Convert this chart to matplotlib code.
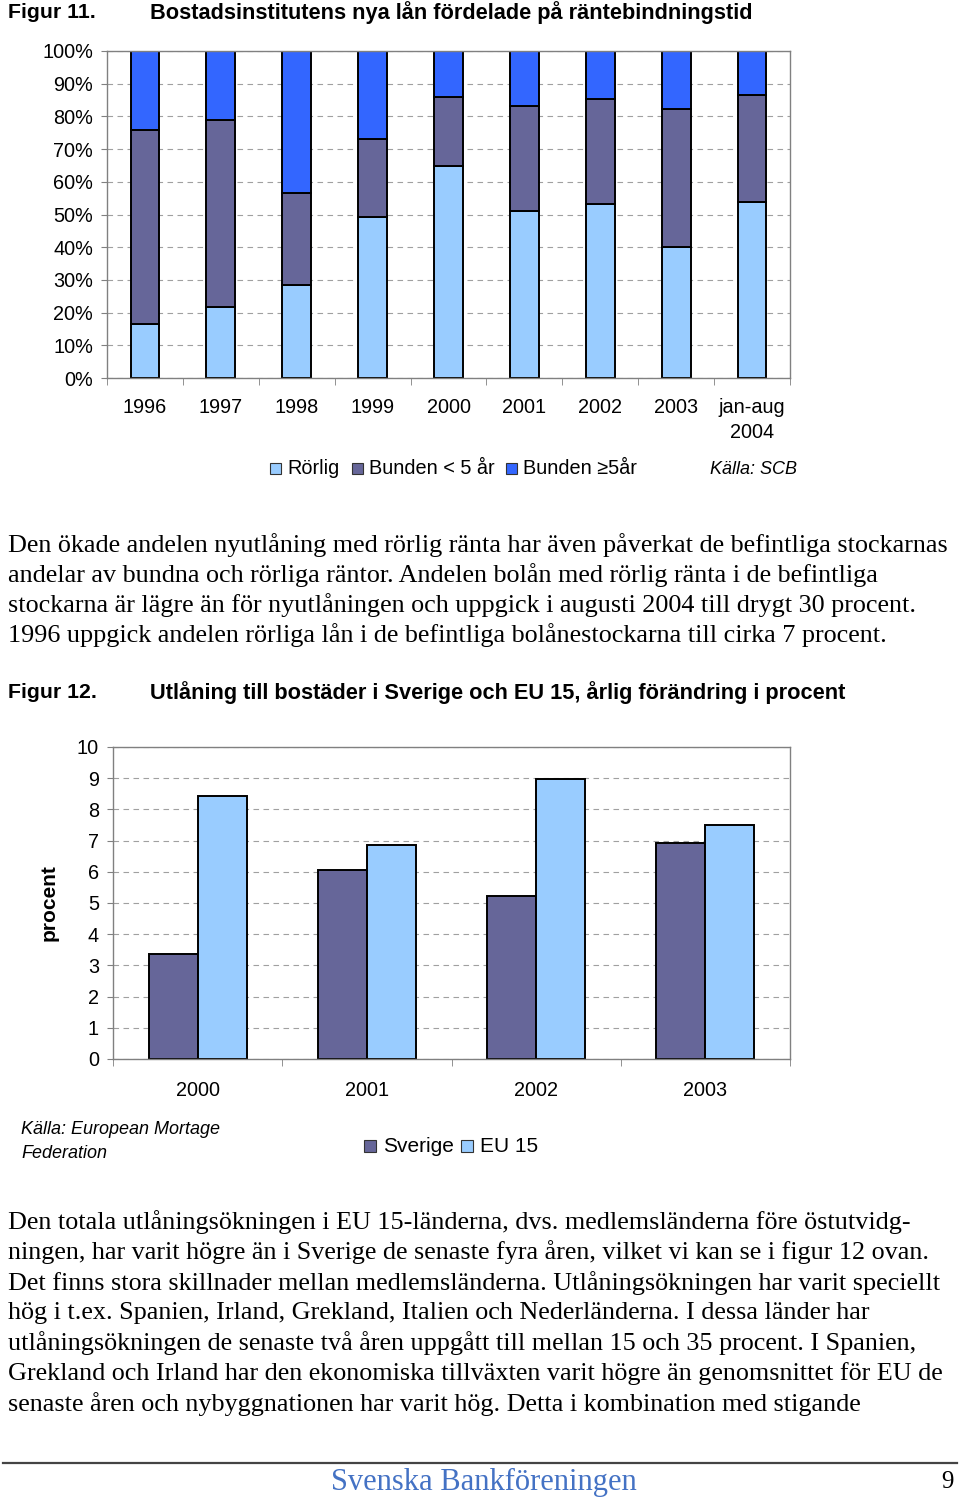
import matplotlib
matplotlib.use("Agg")
import matplotlib.pyplot as plt
import numpy as np
from matplotlib.patches import Rectangle

# ── Data ─────────────────────────────────────────────────────────────────────
years_11 = ["1996", "1997", "1998", "1999", "2000", "2001", "2002", "2003", "jan-aug\n2004"]
rorlig = [16.6, 21.6, 28.5, 49.2, 64.7, 51.2, 53.3, 40.2, 53.8]
bunden_lt5 = [59.3, 57.2, 28.2, 24.0, 21.1, 32.1, 32.0, 42.1, 32.7]
bunden_ge5 = [24.1, 21.2, 43.3, 26.8, 14.2, 16.7, 14.7, 17.7, 13.5]
series_11 = ["Rörlig", "Bunden < 5 år", "Bunden \u22655år"]

years_12 = ["2000", "2001", "2002", "2003"]
sverige = [3.37, 6.05, 5.21, 6.93]
eu15 = [8.42, 6.85, 8.98, 7.51]
series_12 = ["Sverige", "EU 15"]

para1 = [
    "Den ökade andelen nyutlåning med rörlig ränta har även påverkat de befintliga stockarnas",
    "andelar av bundna och rörliga räntor. Andelen bolån med rörlig ränta i de befintliga",
    "stockarna är lägre än för nyutlåningen och uppgick i augusti 2004 till drygt 30 procent.",
    "1996 uppgick andelen rörliga lån i de befintliga bolånestockarna till cirka 7 procent.",
]
para2 = [
    "Den totala utlåningsökningen i EU 15-länderna, dvs. medlemsländerna före östutvidg-",
    "ningen, har varit högre än i Sverige de senaste fyra åren, vilket vi kan se i figur 12 ovan.",
    "Det finns stora skillnader mellan medlemsländerna. Utlåningsökningen har varit speciellt",
    "hög i t.ex. Spanien, Irland, Grekland, Italien och Nederländerna. I dessa länder har",
    "utlåningsökningen de senaste två åren uppgått till mellan 15 och 35 procent. I Spanien,",
    "Grekland och Irland har den ekonomiska tillväxten varit högre än genomsnittet för EU de",
    "senaste åren och nybyggnationen har varit hög. Detta i kombination med stigande",
]

C_LIGHT = "#99ccff"
C_MID = "#666699"
C_BLUE = "#3366ff"
SANS = "Liberation Sans"
SERIF = "Liberation Serif"

W, H = 960, 1501
fig = plt.figure(figsize=(W / 100, H / 100), dpi=100, facecolor="white")


def px(x, y):
    return x / W, 1 - y / H


def ftext(x, y, s, **kw):
    fx, fy = px(x, y)
    fig.text(fx, fy, s, **kw)


def style_axes(ax, xpad):
    for sp in ax.spines.values():
        sp.set_color("#808080")
        sp.set_linewidth(1.0)
    ax.yaxis.grid(True, color="#a0a0a0", linestyle=(0, (5, 4)), linewidth=0.8)
    ax.set_axisbelow(True)
    ax.tick_params(axis="y", direction="out", length=4, color="#808080", pad=6)
    ax.tick_params(axis="x", which="major", length=0, pad=xpad)
    ax.tick_params(axis="x", which="minor", direction="out", length=5, color="#808080")


# ── Figur 11 ─────────────────────────────────────────────────────────────────
ftext(8, 13, "Figur 11.", family=SANS, fontsize=15.3, fontweight="bold", va="center")
ftext(150, 13, "Bostadsinstitutens nya lån fördelade på räntebindningstid",
      family=SANS, fontsize=15.7, fontweight="bold", va="center")

ax1 = fig.add_axes([107 / W, 1 - 378 / H, 683 / W, 327 / H])
x1 = np.arange(len(years_11))
bw = 0.38
b0 = np.array(rorlig)
b1 = b0 + np.array(bunden_lt5)
ax1.bar(x1, rorlig, bw, color=C_LIGHT, edgecolor="black", linewidth=1.4)
ax1.bar(x1, bunden_lt5, bw, bottom=b0, color=C_MID, edgecolor="black", linewidth=1.4)
ax1.bar(x1, bunden_ge5, bw, bottom=b1, color=C_BLUE, edgecolor="black", linewidth=1.4)
ax1.set_xlim(-0.5, len(years_11) - 0.5)
ax1.set_ylim(0, 100)
ax1.set_yticks(np.arange(0, 101, 10))
ax1.set_yticklabels([f"{v}%" for v in range(0, 101, 10)], family=SANS, fontsize=14.3)
ax1.set_xticks(x1)
ax1.set_xticklabels(years_11, family=SANS, fontsize=14.3, linespacing=1.4, va="top")
ax1.set_xticks(np.arange(-0.5, len(years_11), 1), minor=True)
style_axes(ax1, 14.5)

# legend figure 11
lx = [270, 352, 506]
for xx, lab, col in zip(lx, series_11, [C_LIGHT, C_MID, C_BLUE]):
    fx, fy = px(xx, 474)
    fig.patches.append(Rectangle((fx, fy), 11 / W, 11 / H, transform=fig.transFigure,
                                 facecolor=col, edgecolor="#333333", linewidth=0.8))
    ftext(xx + 17, 468, lab, family=SANS, fontsize=14.3, va="center")
ftext(797, 470, "Källa: SCB", family=SANS, fontsize=13, style="italic", va="center", ha="right")

# ── Paragraph 1 ──────────────────────────────────────────────────────────────
for i, line in enumerate(para1):
    ftext(8, 545 + 30 * i, line, family=SERIF, fontsize=18.8, va="center")

# ── Figur 12 ─────────────────────────────────────────────────────────────────
ftext(8, 693, "Figur 12.", family=SANS, fontsize=15.3, fontweight="bold", va="center")
ftext(150, 693, "Utlåning till bostäder i Sverige och EU 15, årlig förändring i procent",
      family=SANS, fontsize=15.7, fontweight="bold", va="center")

ax2 = fig.add_axes([113 / W, 1 - 1059 / H, 677 / W, 312 / H])
x2 = np.arange(len(years_12))
w2 = 0.29
ax2.bar(x2 - w2 / 2, sverige, w2, color=C_MID, edgecolor="black", linewidth=1.4)
ax2.bar(x2 + w2 / 2, eu15, w2, color=C_LIGHT, edgecolor="black", linewidth=1.4)
ax2.set_xlim(-0.5, len(years_12) - 0.5)
ax2.set_ylim(0, 10)
ax2.set_yticks(np.arange(0, 11, 1))
ax2.set_yticklabels([str(v) for v in range(0, 11)], family=SANS, fontsize=14.3)
ax2.set_xticks(x2)
ax2.set_xticklabels(years_12, family=SANS, fontsize=14.3)
ax2.set_xticks(np.arange(-0.5, len(years_12), 1), minor=True)
style_axes(ax2, 16)
ax2.set_ylabel("procent", family=SANS, fontsize=15, fontweight="bold", labelpad=13)

ftext(21, 1129, "Källa: European Mortage", family=SANS, fontsize=13, style="italic", va="center")
ftext(21, 1153, "Federation", family=SANS, fontsize=13, style="italic", va="center")
for xx, lab, col in zip([364, 461], series_12, [C_MID, C_LIGHT]):
    fx, fy = px(xx, 1152)
    fig.patches.append(Rectangle((fx, fy), 12 / W, 12 / H, transform=fig.transFigure,
                                 facecolor=col, edgecolor="#333333", linewidth=0.8))
    ftext(xx + 19, 1146, lab, family=SANS, fontsize=15, va="center")

# ── Paragraph 2 ──────────────────────────────────────────────────────────────
for i, line in enumerate(para2):
    ftext(8, 1222 + 30.3 * i, line, family=SERIF, fontsize=18.8, va="center")

# ── Footer ───────────────────────────────────────────────────────────────────
fx0, fy0 = px(3, 1463)
fx1, _ = px(957, 1463)
fig.add_artist(plt.Line2D([fx0, fx1], [fy0, fy0], transform=fig.transFigure,
                          color="#444444", linewidth=1.6))
ftext(484, 1482, "Svenska Bankföreningen", family=SERIF, fontsize=22, color="#4472c4",
      ha="center", va="center")
ftext(954, 1482, "9", family=SERIF, fontsize=18, ha="right", va="center")

fig.savefig("out.png", dpi=100, facecolor="white")
